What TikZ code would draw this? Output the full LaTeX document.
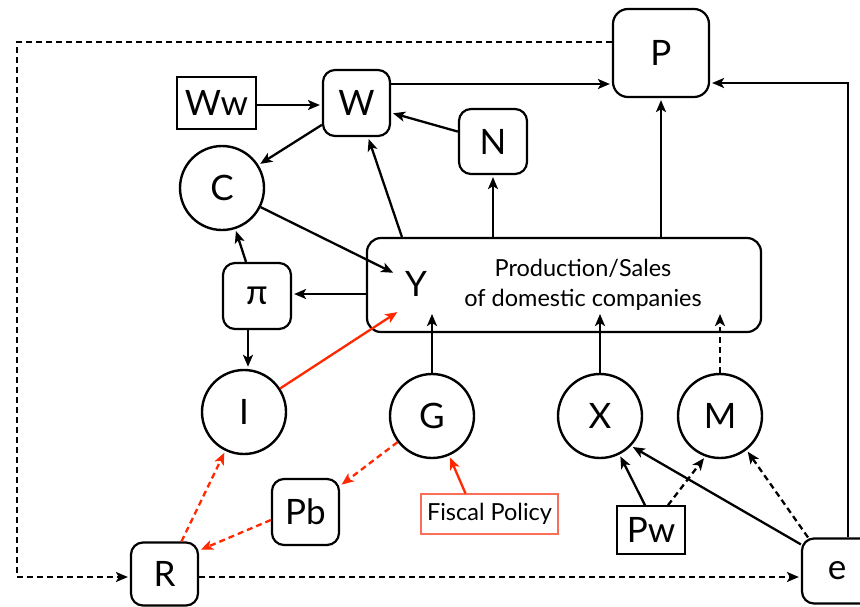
\documentclass[tikz,border=0pt]{standalone}
\usepackage{fontspec}
\setmainfont{Lato}
\usetikzlibrary{arrows.meta}
\definecolor{redline}{RGB}{255,40,0}
\definecolor{redframe}{RGB}{250,110,90}
\tikzset{
  big/.style={font=\fontsize{35}{40}\selectfont},
  small/.style={font=\fontsize{23.5}{30}\selectfont},
  rnd/.style={draw, line width=2.2pt, rounded corners=12pt, big, inner sep=0pt},
  sq/.style={draw, line width=1.6pt, big, inner sep=0pt},
  circ/.style={draw, circle, line width=2.4pt, minimum size=84pt, big, inner sep=0pt},
  link/.style={line width=2.3pt, -{Stealth[length=12pt,width=10pt,inset=3pt]}, shorten >=2pt},
  dlink/.style={link, dash pattern=on 6pt off 4pt},
  rlink/.style={link, draw=redline},
  rdlink/.style={rlink, dash pattern=on 6pt off 4pt},
}
\begin{document}
\begin{tikzpicture}[x=1pt,y=-1pt]
\useasboundingbox (0,0) rectangle (860,606);

% boxes and circles
\node[rnd, minimum width=96pt, minimum height=88pt, rounded corners=15pt] (p) at (661,53) {P};
\node[rnd, minimum width=67pt, minimum height=66pt] (w) at (356.5,103) {W};
\node[sq, minimum width=79pt, minimum height=52pt] (ww) at (216.5,103) {Ww};
\node[rnd, minimum width=68pt, minimum height=65pt] (n) at (493,141.5) {N};
\node[circ] (c) at (222,188) {C};
\node[rnd, minimum width=394pt, minimum height=94pt, rounded corners=14pt] (ybox) at (564,285) {};
\node[big, inner sep=0pt] (y) at (416,284) {Y};
\node[small, align=center] (prod) at (583,285) {Production/Sales\\of domestic companies};
\node[rnd, minimum width=68pt, minimum height=66pt] (pi) at (257,296) {π};
\node[circ] (i) at (244,412) {I};
\node[circ] (g) at (432,416) {G};
\node[circ] (x) at (600,416) {X};
\node[circ] (m) at (720,416) {M};
\node[rnd, minimum width=67pt, minimum height=66pt] (pb) at (305.5,512) {Pb};
\node[rnd, minimum width=67pt, minimum height=63pt] (r) at (164.5,574) {R};
\node[draw=redframe, line width=1.2pt, small, minimum width=137pt, minimum height=40pt, inner sep=0pt] (fp) at (489.5,514) {Fiscal Policy};
\node[sq, minimum width=68pt, minimum height=48pt] (pw) at (651,530) {Pw};
\node[rnd, minimum width=70pt, minimum height=65pt] (e) at (837,571) {e};

\coordinate (ylow) at (0,312);
\coordinate (yin) at (399,311);
\coordinate (loopcorner) at (17,577);

% black connectors
\draw[link] ([yshift=19pt]w.east) -- ([yshift=19pt]w.east -| p.west);
\draw[link] ([yshift=-2pt]ww.east) -- ([yshift=-2pt]ww.east -| w.west);
\draw[link] (n) -- (w);
\draw[link] (w) -- (c);
\draw[link] ([xshift=36pt]ybox.north west) -- (w);
\draw[link] (ybox.north -| n) -- (n);
\draw[link] (ybox.north -| p) -- (p);
\draw[link, shorten >=13pt] (c) -- (y);
\draw[link] ([yshift=-9pt]ybox.west) -- ([yshift=-9pt]ybox.west -| pi.east);
\draw[link] ([xshift=-11pt]pi.north) -- (c);
\draw[link] ([xshift=-9pt]pi.south) -- ([xshift=-9pt]pi.south |- i.north);
\draw[link] (g) -- (g |- ylow);
\draw[link] (x) -- (x |- ylow);
\draw[dlink] (m) -- (m |- ylow);
\draw[link] ([xshift=-6pt]pw.north) -- (x);
\draw[dlink] ([xshift=17pt]pw.north) -- (m.250);
\draw[link] ([yshift=-7pt]e.north west) -- (x.316);
\draw[dlink] ([xshift=-29pt]e.north) -- (m.308);
\draw[link] ([xshift=11pt]e.north) |- ([yshift=-30pt]p.east);
\draw[dlink] ([yshift=11pt]p.west) -| (loopcorner) -- (loopcorner -| r.west);
\draw[dlink] ([yshift=-3pt]r.east) -- ([yshift=-3pt]r.east -| e.west);

% red connectors
\draw[rlink] (i) -- (yin);
\draw[rlink] ([xshift=-24pt]fp.north) -- (g);
\draw[rdlink] (g) -- (pb);
\draw[rdlink] ([yshift=-8pt]pb.west) -- ([yshift=-9pt]r.north east);
\draw[rdlink] ([xshift=17pt]r.north) -- (i);
\end{tikzpicture}
\end{document}
